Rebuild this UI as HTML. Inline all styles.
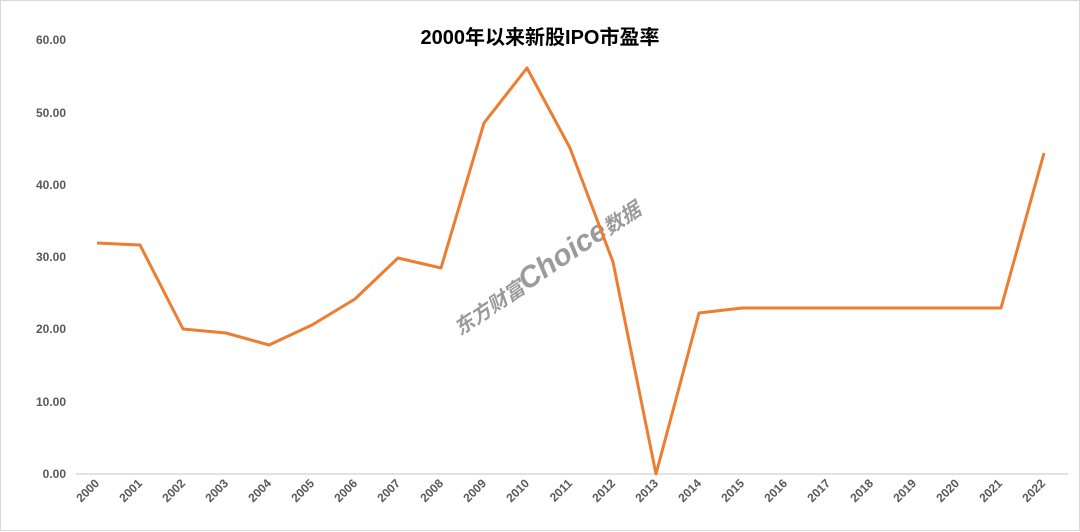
<!DOCTYPE html>
<html><head><meta charset="utf-8"><style>
html,body{margin:0;padding:0;background:#fff}
svg{display:block}
</style></head><body>
<svg width="1080" height="532" xmlns="http://www.w3.org/2000/svg" font-family="Liberation Sans, Noto Sans CJK SC, sans-serif">
<rect x="0.5" y="0.5" width="1079" height="530" fill="#fff" stroke="#d9d9d9"/>
<text x="540" y="44" text-anchor="middle" font-size="20" font-weight="bold" fill="#000" font-family="Liberation Sans, Noto Sans CJK SC, sans-serif">2000年以来新股IPO市盈率</text>
<g font-size="12" font-weight="bold" fill="#595959" text-anchor="end">
<text x="66" y="478">0.00</text>
<text x="66" y="406">10.00</text>
<text x="66" y="333">20.00</text>
<text x="66" y="261">30.00</text>
<text x="66" y="189">40.00</text>
<text x="66" y="117">50.00</text>
<text x="66" y="44">60.00</text>
</g>
<line x1="76" y1="474" x2="1068" y2="474" stroke="#d9d9d9" stroke-width="1.5"/>
<g font-size="12" font-weight="bold" fill="#595959" text-anchor="end">
<text transform="translate(100,484) rotate(-45)">2000</text>
<text transform="translate(143,484) rotate(-45)">2001</text>
<text transform="translate(186,484) rotate(-45)">2002</text>
<text transform="translate(229,484) rotate(-45)">2003</text>
<text transform="translate(272,484) rotate(-45)">2004</text>
<text transform="translate(315,484) rotate(-45)">2005</text>
<text transform="translate(358,484) rotate(-45)">2006</text>
<text transform="translate(401,484) rotate(-45)">2007</text>
<text transform="translate(444,484) rotate(-45)">2008</text>
<text transform="translate(487,484) rotate(-45)">2009</text>
<text transform="translate(530,484) rotate(-45)">2010</text>
<text transform="translate(573,484) rotate(-45)">2011</text>
<text transform="translate(616,484) rotate(-45)">2012</text>
<text transform="translate(659,484) rotate(-45)">2013</text>
<text transform="translate(702,484) rotate(-45)">2014</text>
<text transform="translate(745,484) rotate(-45)">2015</text>
<text transform="translate(788,484) rotate(-45)">2016</text>
<text transform="translate(831,484) rotate(-45)">2017</text>
<text transform="translate(874,484) rotate(-45)">2018</text>
<text transform="translate(917,484) rotate(-45)">2019</text>
<text transform="translate(960,484) rotate(-45)">2020</text>
<text transform="translate(1003,484) rotate(-45)">2021</text>
<text transform="translate(1046,484) rotate(-45)">2022</text>
</g>
<text transform="translate(460,336) rotate(-34)" font-size="30" font-weight="bold" fill="#8a8a8a" opacity="0.85" font-style="italic"><tspan font-size="20">东方财富</tspan>Choice<tspan font-size="20">数据</tspan></text>
<polyline fill="none" stroke="#ed7d31" stroke-width="3" stroke-linejoin="round" points="97,243 140,245 183,329 226,333 269,345 312,325 355,299 398,258 441,268 484,123 527,68 570,148 613,262 656,474 699,313 742,308 785,308 828,308 871,308 914,308 957,308 1001,308 1044,153"/>
</svg>
</body></html>
